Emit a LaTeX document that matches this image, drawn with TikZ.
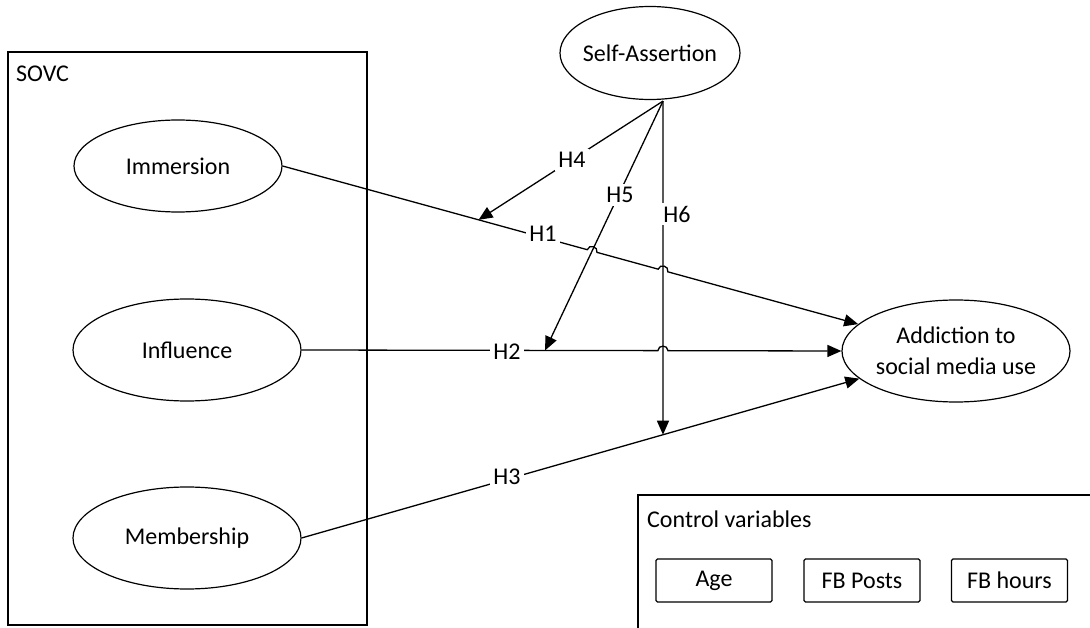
\documentclass[tikz,border=0pt]{standalone}
\usepackage{fontspec}
\setmainfont{Carlito}
\usetikzlibrary{shapes.geometric,arrows.meta,calc}
\begin{document}
\begin{tikzpicture}[x=1pt,y=-1pt,
  every node/.style={font=\fontsize{24}{31}\selectfont},
  construct/.style={draw, ellipse, line width=1.2pt, inner sep=0pt, align=center},
  ctrl/.style={draw, rectangle, rounded corners=1.5pt, line width=1.2pt, minimum width=116pt, minimum height=43pt, inner sep=0pt},
  link/.style={line width=1.3pt, -{Triangle[length=14pt,width=12pt]}},
  hyp/.style={fill=white, inner xsep=3pt, inner ysep=3pt},
  frame/.style={line width=1.2pt},
  lbl/.style={anchor=west, inner sep=0pt}]
\useasboundingbox (0,0) rectangle (1090,628);

% containers
\draw[frame] (8,52) rectangle (367,625);
\node[lbl] (sovc) at (16,74) {SOVC};
\draw[frame] (1090,495) -- (638,495) -- (638,628);
\node[lbl] (cv) at (647,519) {Control variables};

% constructs
\node[construct, minimum width=208pt, minimum height=92pt] (imm) at (178,166) {Immersion};
\node[construct, minimum width=228pt, minimum height=102pt] (inf) at (187,350) {Influence};
\node[construct, minimum width=228pt, minimum height=102pt] (mem) at (187,538) {Membership};
\node[construct, inner xsep=-7pt, minimum width=180pt, minimum height=93pt] (sa) at (650,53) {Self-Assertion};
\node[construct, inner xsep=-2pt, minimum width=228pt, minimum height=102pt] (add) at (956,351) {Addiction to\\social media use};

% control variables
\node[ctrl] (age) at (714,580.5) {Age};
\node[ctrl] (posts) at (862,580.5) {FB Posts};
\node[ctrl] (hours) at (1009.5,580.5) {FB hours};

% helper coordinates
\coordinate (src) at ($(sa.south)+(13,1)$);
\coordinate (srcd) at ($(src)+(0,400)$);
\coordinate (T4) at ($(imm.east)!0.291!(add.center)$);
\coordinate (T5) at ($(inf.east)!0.451!(add.west)$);
\coordinate (T6) at (intersection of src--srcd and mem.east--add.center);
\coordinate (X1) at (intersection of imm.east--add.center and src--T5);
\coordinate (X2) at (intersection of imm.east--add.center and src--srcd);
\coordinate (X3) at (intersection of inf.east--add.west and src--srcd);
\coordinate (X1a) at ($(X1)!5pt!(imm.east)$);
\coordinate (X1b) at ($(X1)!5pt!(add.center)$);
\coordinate (X2a) at ($(X2)!5pt!(imm.east)$);
\coordinate (X2b) at ($(X2)!5pt!(add.center)$);
\coordinate (X3a) at ($(X3)!5pt!(inf.east)$);
\coordinate (X3b) at ($(X3)!5pt!(add.west)$);

% H1
\draw[link] (imm.east) -- (X1a)
  .. controls ($(X1a)!6pt!90:(X1)$) and ($(X1b)!6pt!-90:(X1)$) .. (X1b)
  -- (X2a)
  .. controls ($(X2a)!6pt!90:(X2)$) and ($(X2b)!6pt!-90:(X2)$) .. (X2b)
  -- (add);
% H2
\draw[link] (inf.east) -- (X3a)
  .. controls ($(X3a)!6pt!90:(X3)$) and ($(X3b)!6pt!-90:(X3)$) .. (X3b)
  -- (add.west);
% H3
\draw[link] (mem.east) -- (add);
% moderators
\draw[link] (src) -- (T4);
\draw[link] (src) -- (T5);
\draw[link] (src) -- (T6);

% hypothesis labels
\node[hyp] (l1) at (543,234) {H1};
\node[hyp] (l2) at (507,352) {H2};
\node[hyp] (l3) at (507,477) {H3};
\node[hyp] (l4) at (572,160) {H4};
\node[hyp] (l5) at (620,195) {H5};
\node[hyp] (l6) at (677,214) {H6};
\end{tikzpicture}
\end{document}
